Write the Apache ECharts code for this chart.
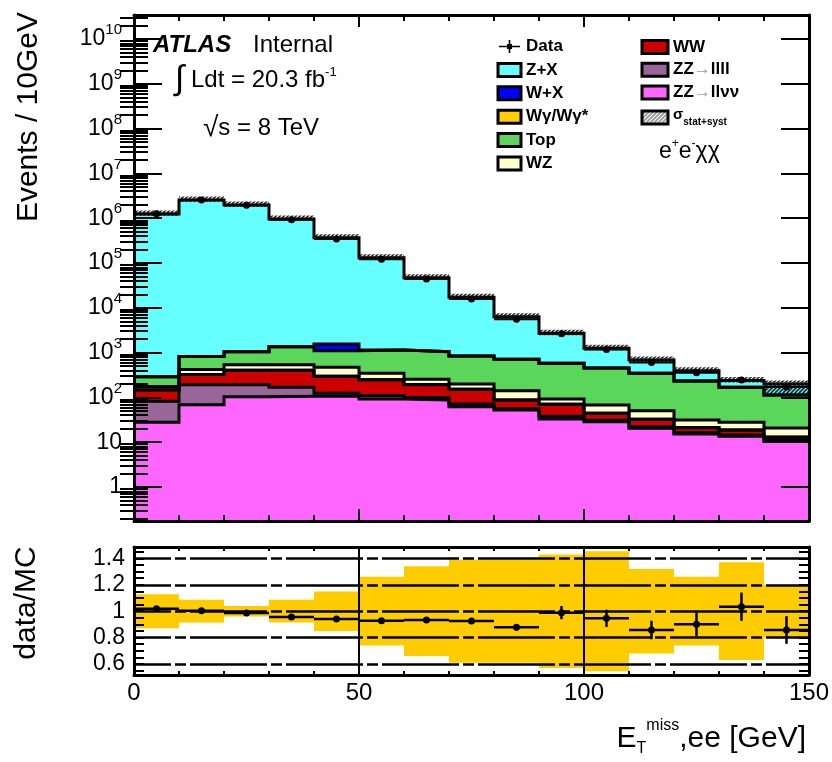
<!DOCTYPE html>
<html>
<head>
<meta charset="utf-8">
<script src="https://cdn.jsdelivr.net/npm/echarts@6/dist/echarts.min.js"></script>
<style>
  html, body { margin: 0; padding: 0; background: #fff; }
  #chart { width: 832px; height: 762px; }
</style>
</head>
<body>
<div id="chart"></div>
<script>
// ---- binning: E_T^miss in 10 GeV bins from 0 to 150 GeV ----
const binLow = [0, 10, 20, 30, 40, 50, 60, 70, 80, 90, 100, 110, 120, 130, 140];
const binWidth = 10;

// ---- background predictions, events per bin ----
const zzLLvv = [27.8, 68.7, 104, 106, 106, 92, 87.5, 62, 52, 33, 28.7, 20.4, 15.2, 13.5, 10.3];
const zzLLLL = [54, 123, 88, 62, 18, 18, 11.5, 9, 4, 5, 2.3, 1.6, 1.1, 1.0, 0.7];
const ww     = [64, 132, 211, 235, 172, 138, 93, 81, 31.5, 32, 13, 10.4, 4.7, 4.2, 1.9];
const wgamma = [1.5, 2, 2, 2, 1.5, 1, 1, 0.8, 0.5, 0.4, 0.3, 0.2, 0.2, 0.1, 0.1];
const wz     = [27.5, 94, 132, 132, 172, 96, 61, 46, 53, 21.6, 23.7, 17.9, 10.1, 9, 7.7];
const ttbar  = [115, 398, 510, 813, 630, 798, 793, 641, 567, 484, 385, 296, 201, 140, 92];
const wjets  = [0.5, 1, 2, 3, 450, 4, 3, 2, 1, 0.8, 0.5, 0.4, 0.3, 0.2, 0.2];
const zjets  = [1.24e6, 2.55e6, 1.97e6, 9.6e5, 3.65e5, 1.3e5, 4.6e4, 1.63e4, 5600, 2120, 796, 337, 162, 70, 86];

// ---- observed events ----
const dataCounts = [1.26e6, 2.56e6, 1.94e6, 9.2e5, 3.45e5, 1.21e5, 4.4e4, 1.58e4, 5540, 2650, 1180, 600, 355, 244, 171];

// ---- relative MC uncertainty shown as hatched band on the stack ----
const mcUncUp   = [0.2, 0.2, 0.2, 0.2, 0.2, 0.2, 0.2, 0.2, 0.2, 0.2, 0.2, 0.2, 0.2, 0.2, 0.2];
const mcUncDown = [0.1, 0.1, 0.1, 0.1, 0.1, 0.1, 0.1, 0.1, 0.1, 0.1, 0.1, 0.1, 0.1, 0.1, 0.45];

// ---- ratio panel ----
const ratio     = [1.019, 1.004, 0.986, 0.956, 0.941, 0.928, 0.933, 0.926, 0.878, 0.989, 0.946, 0.858, 0.901, 1.034, 0.858];
const ratioErr  = [0.002, 0.002, 0.002, 0.003, 0.005, 0.008, 0.012, 0.018, 0.025, 0.05, 0.065, 0.07, 0.088, 0.107, 0.105];
const ratioBand = [0.129, 0.086, 0.04, 0.086, 0.15, 0.26, 0.34, 0.39, 0.39, 0.43, 0.454, 0.32, 0.26, 0.37, 0.2];

// ---- axis ranges and tick values ----
const Y_MIN = Math.pow(10, -0.759);
const Y_MAX = Math.pow(10, 10.536);
const R_MIN = 0.517;
const R_MAX = 1.486;
const logMajor = [1, 10, 100, 1e3, 1e4, 1e5, 1e6, 1e7, 1e8, 1e9, 1e10];
const ratioLabels = [0.6, 0.8, 1, 1.2, 1.4];

const logMinor = [];
for (let k = -1; k <= 10; k++) {
  for (let m = 2; m <= 9; m++) {
    const v = m * Math.pow(10, k);
    if (v > Y_MIN && v < Y_MAX) logMinor.push(v);
  }
}
const ratioTicks = [];
for (let i = 11; i <= 29; i++) ratioTicks.push(+(i * 0.05).toFixed(2));

const FONT = '"Liberation Sans", Arial, Helvetica, sans-serif';

// diagonal hatch fill
function hatch(bg, fg, size, width) {
  const c = document.createElement('canvas');
  c.width = size; c.height = size;
  const g = c.getContext('2d');
  if (bg) { g.fillStyle = bg; g.fillRect(0, 0, size, size); }
  g.strokeStyle = fg; g.lineWidth = width;
  g.beginPath();
  g.moveTo(0, size); g.lineTo(size, 0);
  g.moveTo(-size / 2, size / 2); g.lineTo(size / 2, -size / 2);
  g.moveTo(size / 2, size * 1.5); g.lineTo(size * 1.5, size / 2);
  g.stroke();
  return { image: c, repeat: 'repeat' };
}
const bandHatch = hatch(null, 'rgba(20,20,20,0.9)', 4, 1.6);
const legendHatch = hatch('#ffffff', '#9a9a9a', 4, 1.8);

// ---- stack (bottom to top) ----
const stackDefs = [
  { name: 'ZZ→llνν', values: zzLLvv, color: '#ff66ff' },
  { name: 'ZZ→llll', values: zzLLLL, color: '#996699' },
  { name: 'WW',      values: ww,     color: '#cc0000' },
  { name: 'Wγ/Wγ*',  values: wgamma, color: '#ffcc00' },
  { name: 'WZ',      values: wz,     color: '#ffffcc' },
  { name: 'Top',     values: ttbar,  color: '#5ad65a' },
  { name: 'W+X',     values: wjets,  color: '#0000ff' },
  { name: 'Z+X',     values: zjets,  color: '#66ffff' }
];

function renderRect(params, api) {
  const a = api.coord([api.value(0), api.value(3)]);
  const b = api.coord([api.value(1), api.value(2)]);
  return {
    type: 'rect',
    shape: { x: a[0], y: a[1], width: b[0] - a[0], height: b[1] - a[1] },
    style: { fill: api.visual('color') }
  };
}

const fillSeries = [];
const edgeSeries = [];
let cum = binLow.map(() => 0);
stackDefs.forEach(def => {
  const lo = cum.slice();
  cum = cum.map((c, i) => c + def.values[i]);
  const hi = cum.slice();
  fillSeries.push({
    type: 'custom', name: def.name, xAxisIndex: 0, yAxisIndex: 0, z: 2, clip: true,
    itemStyle: { color: def.color },
    encode: { x: [0, 1], y: [2, 3] },
    renderItem: renderRect,
    data: binLow.map((x, i) => [x, x + binWidth, Math.max(lo[i], Y_MIN), hi[i]])
  });
  edgeSeries.push({
    type: 'line', name: def.name + ' outline', xAxisIndex: 0, yAxisIndex: 0, z: 3,
    step: 'end', showSymbol: false, symbol: 'none', silent: true,
    lineStyle: { color: '#000', width: 3, join: 'miter' },
    data: binLow.map((x, i) => [x, hi[i]]).concat([[binLow[binLow.length - 1] + binWidth, hi[hi.length - 1]]])
  });
});
const mcTotal = cum;

const bandSeries = {
  type: 'custom', name: 'σ_stat+syst', xAxisIndex: 0, yAxisIndex: 0, z: 4, clip: true,
  itemStyle: { color: '#999' },
  encode: { x: [0, 1], y: [2, 3] },
  renderItem: function (params, api) {
    const a = api.coord([api.value(0), api.value(3)]);
    const b = api.coord([api.value(1), api.value(2)]);
    return {
      type: 'rect',
      shape: { x: a[0], y: a[1], width: b[0] - a[0], height: b[1] - a[1] },
      style: { fill: bandHatch }
    };
  },
  data: binLow.map((x, i) => [x, x + binWidth, mcTotal[i] * (1 - mcUncDown[i]), mcTotal[i] * (1 + mcUncUp[i])])
};

const dataSeries = {
  type: 'custom', name: 'Data', xAxisIndex: 0, yAxisIndex: 0, z: 6, clip: true,
  itemStyle: { color: '#000' },
  encode: { x: [0, 1], y: 2 },
  renderItem: function (params, api) {
    const l = api.coord([api.value(0), api.value(2)]);
    const r = api.coord([api.value(1), api.value(2)]);
    const c = [(l[0] + r[0]) / 2, l[1]];
    return {
      type: 'group',
      children: [
        { type: 'line', shape: { x1: l[0], y1: l[1], x2: r[0], y2: r[1] }, style: { stroke: '#000', lineWidth: 2 } },
        { type: 'circle', shape: { cx: c[0], cy: c[1], r: 3.5 }, style: { fill: '#000' } }
      ]
    };
  },
  data: binLow.map((x, i) => [x, x + binWidth, dataCounts[i]])
};

const ratioBandSeries = {
  type: 'custom', name: 'MC uncertainty', xAxisIndex: 2, yAxisIndex: 4, z: 2, clip: true,
  itemStyle: { color: '#ffcc00' },
  encode: { x: [0, 1], y: [2, 3] },
  renderItem: renderRect,
  data: binLow.map((x, i) => [x, x + binWidth, 1 - ratioBand[i], 1 + ratioBand[i]])
};

const ratioGridSeries = {
  type: 'line', name: 'reference lines', xAxisIndex: 2, yAxisIndex: 4, z: 3, data: [],
  markLine: {
    silent: true, symbol: 'none', label: { show: false },
    lineStyle: { color: '#000', width: 2.5, type: [77, 4, 11, 4], dashOffset: 40 },
    data: ratioLabels.map(v => ({ yAxis: v }))
  }
};

const ratioSeries = {
  type: 'custom', name: 'Data/MC', xAxisIndex: 2, yAxisIndex: 4, z: 6, clip: true,
  itemStyle: { color: '#000' },
  encode: { x: [0, 1], y: 2 },
  renderItem: function (params, api) {
    const x0 = api.value(0), x1 = api.value(1), v = api.value(2), e = api.value(3);
    const l = api.coord([x0, v]);
    const r = api.coord([x1, v]);
    const xc = (l[0] + r[0]) / 2;
    const up = api.coord([(x0 + x1) / 2, v + e]);
    const dn = api.coord([(x0 + x1) / 2, v - e]);
    return {
      type: 'group',
      children: [
        { type: 'line', shape: { x1: l[0], y1: l[1], x2: r[0], y2: r[1] }, style: { stroke: '#000', lineWidth: 2.5 } },
        { type: 'line', shape: { x1: xc, y1: up[1], x2: xc, y2: dn[1] }, style: { stroke: '#000', lineWidth: 2.5 } },
        { type: 'circle', shape: { cx: xc, cy: l[1], r: 3.5 }, style: { fill: '#000' } }
      ]
    };
  },
  data: binLow.map((x, i) => [x, x + binWidth, ratio[i], ratioErr[i]])
};

// ---- axes ----
const axisLine = { show: true, onZero: false, lineStyle: { color: '#000', width: 3 } };
const tickStyle = { color: '#000', width: 2 };

function powLabel(v) {
  const e = Math.round(Math.log10(v));
  if (e === 0) return '1';
  if (e === 1) return '10';
  return '{b|10}{e|' + e + '}';
}

function xAxisCfg(grid, pos, majorLen, minorLen, extra) {
  return Object.assign({
    gridIndex: grid, type: 'value', min: 0, max: 150, interval: 50, position: pos, z: 10,
    axisLine: axisLine,
    axisTick: { show: true, inside: true, length: majorLen, lineStyle: tickStyle },
    minorTick: { show: true, splitNumber: 5, length: minorLen, lineStyle: tickStyle },
    axisLabel: { show: false },
    splitLine: { show: false }, minorSplitLine: { show: false }
  }, extra || {});
}

function logAxisCfg(pos, ticks, len, extra) {
  return Object.assign({
    gridIndex: 0, type: 'log', logBase: 10, min: Y_MIN, max: Y_MAX, position: pos, z: 10,
    axisLine: axisLine,
    axisTick: { show: true, inside: true, length: len, customValues: ticks, lineStyle: tickStyle },
    axisLabel: { show: false },
    splitLine: { show: false }, minorTick: { show: false }, minorSplitLine: { show: false }
  }, extra || {});
}

function ratioAxisCfg(pos, extra) {
  return Object.assign({
    gridIndex: 1, type: 'value', min: R_MIN, max: R_MAX, position: pos, z: 10,
    axisLine: axisLine,
    axisTick: { show: true, inside: true, length: 10, customValues: ratioTicks, lineStyle: tickStyle },
    axisLabel: { show: false },
    splitLine: { show: false }, minorTick: { show: false }, minorSplitLine: { show: false }
  }, extra || {});
}

const legendText = {
  fontFamily: FONT, fontSize: 17, fontWeight: 'bold', color: '#000', lineHeight: 16,
  rich: {
    n: { fontFamily: FONT, fontSize: 17, fontWeight: 'bold', color: '#000' },
    a: { fontFamily: FONT, fontSize: 17, color: '#999' },
    g: { fontFamily: FONT, fontSize: 15, fontWeight: 'bold', color: '#000', padding: [0, 0, 6, 0] },
    s: { fontFamily: FONT, fontSize: 10, fontWeight: 'bold', color: '#000', padding: [10, 0, 0, 0] }
  }
};
const legendNames = {
  'ZZ→llll': '{n|ZZ}{a|→}{n|llll}',
  'ZZ→llνν': '{n|ZZ}{a|→}{n|llνν}',
  'σ_stat+syst': '{g|σ}{s|stat+syst}'
};
function legendFormatter(name) { return legendNames[name] || name; }
function boxItem(name, color) {
  return { name: name, icon: 'rect', itemStyle: { color: color, borderColor: '#000', borderWidth: 3 } };
}

const option = {
  animation: false,
  backgroundColor: '#fff',
  grid: [
    { left: 134, right: 23, top: 15, height: 506 },
    { left: 134, right: 23, top: 547, height: 128 }
  ],
  xAxis: [
    xAxisCfg(0, 'bottom', 12, 6),
    xAxisCfg(0, 'top', 12, 6),
    xAxisCfg(1, 'bottom', 128, 4, {
      axisLabel: { show: true, margin: 6, color: '#000', fontFamily: FONT, fontSize: 24 },
      name: '{b|E}{sub|T}{sup|miss}{b|,ee [GeV]}',
      nameLocation: 'end', nameGap: -3,
      nameTextStyle: {
        align: 'right', verticalAlign: 'top', padding: [43, 0, 0, 0],
        rich: {
          b: { fontFamily: FONT, fontSize: 30, color: '#000' },
          sub: { fontFamily: FONT, fontSize: 16, color: '#000', padding: [20, 0, 0, 0] },
          sup: { fontFamily: FONT, fontSize: 16, color: '#000', padding: [0, 0, 26, 0] }
        }
      }
    }),
    xAxisCfg(1, 'top', 4, 4)
  ],
  yAxis: [
    logAxisCfg('left', logMajor, 28, {
      axisLabel: {
        show: true, margin: 12, customValues: logMajor, formatter: powLabel,
        color: '#000', fontFamily: FONT, fontSize: 23,
        rich: {
          b: { fontFamily: FONT, fontSize: 23, color: '#000' },
          e: { fontFamily: FONT, fontSize: 15, color: '#000', padding: [0, 0, 18, 0] }
        }
      },
      name: 'Events / 10GeV', nameLocation: 'end', nameRotate: 90, nameGap: 3,
      nameTextStyle: {
        fontFamily: FONT, fontSize: 30, color: '#000',
        align: 'right', verticalAlign: 'bottom', padding: [0, 0, 90, 0]
      }
    }),
    logAxisCfg('right', logMajor, 28),
    logAxisCfg('left', logMinor, 14, { axisLine: { show: false } }),
    logAxisCfg('right', logMinor, 14, { axisLine: { show: false } }),
    ratioAxisCfg('left', {
      axisLabel: {
        show: true, margin: 9, customValues: ratioLabels,
        formatter: v => String(+v.toFixed(1)),
        color: '#000', fontFamily: FONT, fontSize: 23
      },
      name: 'data/MC', nameLocation: 'middle', nameGap: 92,
      nameTextStyle: { fontFamily: FONT, fontSize: 30, color: '#000', padding: [0, 0, 0, 16] }
    }),
    ratioAxisCfg('right')
  ],
  legend: [
    {
      left: 491.5, top: 33, orient: 'vertical', selectedMode: false,
      itemWidth: 23, itemHeight: 13, itemGap: 6.4,
      textStyle: legendText, formatter: legendFormatter,
      data: [
        { name: 'Data', icon: 'path://M0,7L26,7L26,9L0,9Z M12,0L14,0L14,16L12,16Z M10,5L16,5L16,11L10,11Z',
          itemStyle: { color: '#000', borderWidth: 0 } },
        boxItem('Z+X', '#66ffff'),
        boxItem('W+X', '#0000ff'),
        boxItem('Wγ/Wγ*', '#ffcc00'),
        boxItem('Top', '#5ad65a'),
        boxItem('WZ', '#ffffcc')
      ]
    },
    {
      left: 635.5, top: 33.5, orient: 'vertical', selectedMode: false,
      itemWidth: 26, itemHeight: 13, itemGap: 5.8,
      textStyle: legendText, formatter: legendFormatter,
      data: [
        boxItem('WW', '#cc0000'),
        boxItem('ZZ→llll', '#996699'),
        boxItem('ZZ→llνν', '#ff66ff'),
        boxItem('σ_stat+syst', legendHatch)
      ]
    }
  ],
  graphic: [
    { type: 'text', left: 153, top: 33, z: 20,
      style: { text: 'ATLAS', fill: '#000', font: 'italic bold 24px ' + FONT } },
    { type: 'text', left: 253, top: 33, z: 20,
      style: { text: 'Internal', fill: '#000', font: '24px ' + FONT } },
    { type: 'text', left: 175, top: 63, z: 20,
      style: {
        text: '{i|∫}{t| Ldt = 20.3 fb}{s|-1}',
        rich: {
          i: { fontFamily: FONT, fontSize: 34, fill: '#000' },
          t: { fontFamily: FONT, fontSize: 24, fill: '#000' },
          s: { fontFamily: FONT, fontSize: 13, fill: '#000', padding: [0, 0, 16, 0] }
        }
      } },
    { type: 'text', left: 203, top: 114, z: 20,
      style: {
        text: '{r|√}{t|s = 8 TeV}',
        rich: {
          r: { fontFamily: FONT, fontSize: 28, fill: '#000' },
          t: { fontFamily: FONT, fontSize: 24, fill: '#000' }
        }
      } },
    { type: 'text', left: 659, top: 138, z: 20,
      style: {
        text: '{t|e}{s|+}{t|e}{s|-}{t|χχ}',
        rich: {
          t: { fontFamily: FONT, fontSize: 23, fill: '#000' },
          s: { fontFamily: FONT, fontSize: 12, fill: '#000', padding: [0, 0, 16, 0] }
        }
      } }
  ],
  series: [].concat(fillSeries, edgeSeries, [bandSeries, dataSeries, ratioBandSeries, ratioGridSeries, ratioSeries])
};

const chart = echarts.init(document.getElementById('chart'), null, { renderer: 'canvas' });
chart.setOption(option);
</script>
</body>
</html>
